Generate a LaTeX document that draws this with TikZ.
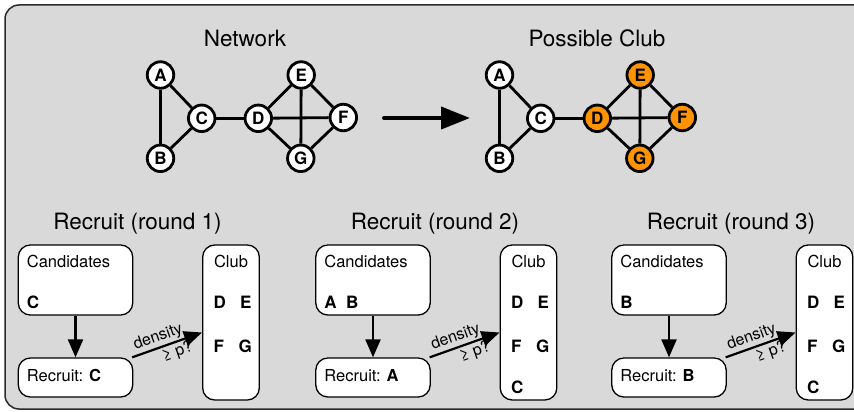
\documentclass[tikz,border=0pt]{standalone}
\usepackage{fontspec}
\setmainfont{TeX Gyre Heros}
\usetikzlibrary{arrows.meta,positioning}
\definecolor{panelgray}{HTML}{D9D9D9}
\definecolor{cluborange}{HTML}{FF9300}
\definecolor{framegray}{HTML}{2A2A2A}

\begin{document}
\begin{tikzpicture}[x=1pt,y=-1pt,
  vertex/.style={circle,draw,line width=2.8pt,fill=white,minimum size=26.5pt,inner sep=0pt,
    font=\fontsize{17}{20}\selectfont\bfseries},
  link/.style={line width=2.8pt},
  heading/.style={anchor=base,inner sep=0pt,font=\fontsize{22.5}{27}\selectfont},
  box/.style={draw,line width=1.3pt,rounded corners=12pt,fill=white,inner sep=0pt},
  boxtext/.style={anchor=base west,inner sep=0pt,font=\fontsize{16.5}{20}\selectfont},
  member/.style={anchor=base west,inner sep=0pt,font=\fontsize{17}{20}\selectfont\bfseries},
  flow/.style={line width=2.2pt,-{Triangle[length=18pt,width=15pt]}}]
  \useasboundingbox (0,0) rectangle (854,412);

  % Grey panel
  \draw[line width=1.5pt,draw=framegray,fill=panelgray,rounded corners=14pt] (5,5) rectangle (890,409);

  % Network and possible club
  \node[heading] (nettitle) at (245,47) {Network};
  \node[heading] (clubtitle) at (597,47) {Possible Club};
  \foreach \nm/\x/\y/\c in {A/160.5/75/white, B/160.5/158.3/white, C/201.7/118.3/white,
      D/258.3/118.3/cluborange, E/301.2/75/cluborange, F/343.3/117.5/cluborange, G/300.8/158.3/cluborange} {
    \node[vertex] (n\nm) at (\x,\y) {\nm};
    \node[vertex,fill=\c] (p\nm) at (\x+339,\y) {\nm};
  }
  \foreach \u/\v in {A/B,A/C,B/C,C/D,D/E,D/F,D/G,E/F,E/G,F/G} {
    \draw[link] (n\u) -- (n\v);
    \draw[link] (p\u) -- (p\v);
  }
  \coordinate (arrowfrom) at (384,118);
  \coordinate (arrowto) at (470,118);
  \draw[line width=4pt,line cap=round,-{Triangle[length=29pt,width=22pt]}] (arrowfrom) -- (arrowto);

  % Recruit rounds
  \foreach \n/\dx/\cand/\rec/\late in {1/0/C/C/{}, 2/297.5/A~~B/A/C, 3/593.5/B/B/C} {
    \node[heading] (title\n) at (137.5+\dx,229) {Recruit (round \n)};
    \node[box,minimum width=114.4pt,minimum height=70pt] (cand\n) at (75.5+\dx,280) {};
    \node[boxtext] (candlabel\n) at (26.7+\dx,267) {Candidates};
    \node[member] (candset\n) at (26.7+\dx,308) {\cand};
    \node[box,minimum width=114.4pt,minimum height=39pt] (rec\n) at (75.5+\dx,377.5) {};
    \node[boxtext] (reclabel\n) at (26.7+\dx,381) {Recruit: \textbf{\rec}};
    \node[box,minimum width=56.6pt,minimum height=155pt] (club\n) at (231+\dx,322.5) {};
    \node[anchor=base,inner sep=0pt,font=\fontsize{16.5}{20}\selectfont] (clublabel\n) at (231+\dx,267) {Club};
    \node[member] (memD\n) at (213.3+\dx,308) {D};
    \node[member] (memE\n) at (240+\dx,308) {E};
    \node[member] (memF\n) at (213.3+\dx,352) {F};
    \node[member] (memG\n) at (238.3+\dx,352) {G};
    \node[member] (memlate\n) at (213.3+\dx,393) {\late};
    \draw[flow] (cand\n) -- (rec\n);
    \draw[flow] (rec\n) -- ([yshift=-10pt]club\n.west)
      node[pos=0.42,sloped,above,inner sep=1.5pt,font=\fontsize{16}{19}\selectfont] {density}
      node[pos=0.6,sloped,below,inner sep=1.5pt,font=\fontsize{16}{19}\selectfont] {≥ p?};
  }
\end{tikzpicture}
\end{document}
